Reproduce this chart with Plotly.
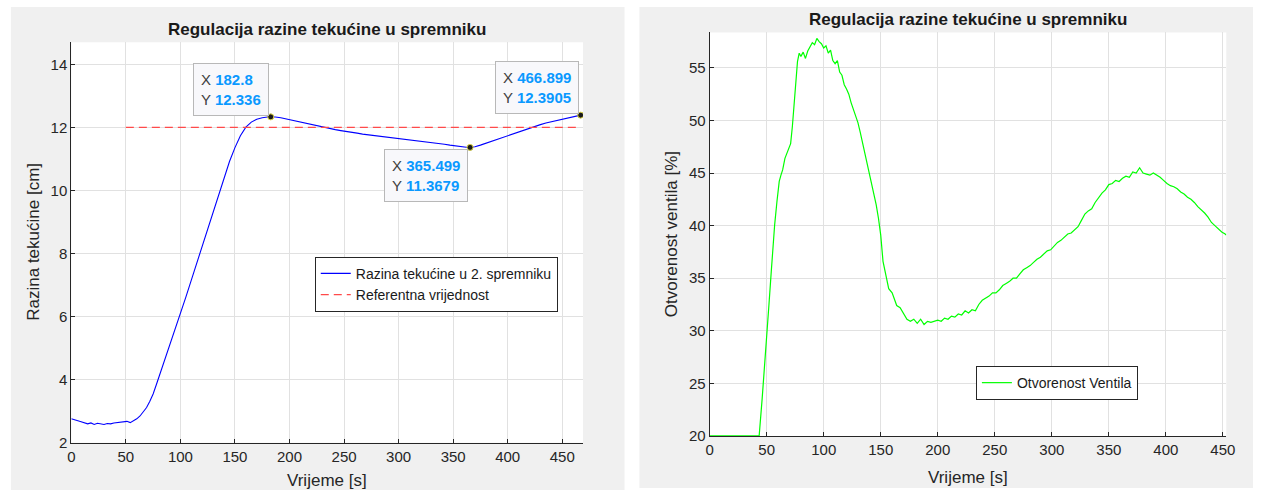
import plotly.graph_objects as go

# ---------------- data ----------------
title_text = "Regulacija razine tekućine u spremniku"

level_t = [0, 3, 6, 9, 12, 15, 18, 21, 24, 27, 30, 33, 36, 39, 42, 45, 48, 51, 54, 57,
           60, 63, 66, 69, 72, 75, 78, 81, 84, 87, 90, 95, 100, 105, 110, 115, 120, 125,
           130, 135, 140, 145, 150, 155, 160, 165, 170, 175, 180, 182.8, 187, 192, 197,
           202, 207, 212, 217, 222, 227, 232, 237, 242, 247, 252, 257, 262, 267, 272,
           277, 282, 287, 292, 297, 302, 307, 312, 317, 322, 327, 332, 337, 342, 347,
           352, 357, 362, 365.499, 370, 375, 380, 385, 390, 395, 400, 405, 410, 415,
           420, 425, 430, 435, 440, 445, 450, 455, 460, 466.899]
level_h = [2.76, 2.72, 2.70, 2.67, 2.64, 2.60, 2.63, 2.58, 2.62, 2.59, 2.58, 2.61, 2.60,
           2.63, 2.64, 2.66, 2.65, 2.68, 2.64, 2.70, 2.76, 2.85, 2.97, 3.12, 3.32, 3.55,
           3.85, 4.15, 4.47, 4.78, 5.08, 5.58, 6.08, 6.62, 7.16, 7.70, 8.24, 8.80, 9.35,
           9.90, 10.42, 10.92, 11.36, 11.74, 12.01, 12.17, 12.26, 12.31, 12.33, 12.336,
           12.33, 12.31, 12.27, 12.24, 12.20, 12.16, 12.12, 12.08, 12.04, 12.00, 11.96,
           11.93, 11.90, 11.88, 11.85, 11.82, 11.79, 11.77, 11.74, 11.72, 11.70, 11.68,
           11.66, 11.65, 11.63, 11.61, 11.58, 11.56, 11.54, 11.51, 11.49, 11.47, 11.44,
           11.41, 11.39, 11.37, 11.3679, 11.39, 11.44, 11.50, 11.56, 11.62, 11.68, 11.74,
           11.80, 11.86, 11.93, 11.99, 12.04, 12.09, 12.14, 12.18, 12.22, 12.25, 12.28,
           12.32, 12.3905]

ref_t = [50, 466.899]
ref_h = [12, 12]

tip_x = [182.8, 365.499, 466.899]
tip_y = [12.336, 11.3679, 12.3905]
tip_xlabel = ["182.8", "365.499", "466.899"]
tip_ylabel = ["12.336", "11.3679", "12.3905"]

valve_t = [0, 10, 20, 30, 40, 43.4, 46, 48, 50, 52, 54, 55.5, 57, 59, 61, 62.5, 64, 66,
           68, 69.5, 71, 72.5, 74, 75.5, 77, 78.5, 80, 82, 84, 86, 88, 90, 92, 94, 96,
           98, 100, 102, 104, 106, 108, 110, 112, 114, 116, 118, 120, 122, 124, 126,
           128, 130, 132, 134, 136, 138, 140, 142, 144, 146, 148, 150, 152, 154.5, 157,
           160, 162, 164, 167, 170, 173, 176, 179, 182, 185, 188, 191, 194, 197, 200,
           203, 206, 209, 212, 215, 218, 221, 224, 227, 230, 233, 236, 239, 242, 245,
           248, 251, 254, 257, 260, 263, 266, 269, 272, 275, 278, 281, 284, 287, 290,
           293, 296, 299, 302, 305, 308, 311, 314, 317, 320, 323, 326, 329, 332, 335,
           338, 341, 344, 347, 350, 353, 356, 359, 362, 365, 368, 371, 374, 377, 380,
           383, 386, 389, 392, 395, 398, 401, 404, 407, 410, 413, 416, 419, 422, 425,
           428, 431, 434, 437, 440, 443, 446, 449, 452, 453]
valve_v = [20, 20, 20, 20, 20, 20, 23.5, 26.8, 29.5, 32.5, 35.6, 38.3, 40.1, 42.3, 44.2,
           44.8, 45.3, 46.4, 46.9, 47.3, 47.8, 49.4, 51.8, 54.2, 55.6, 56.4, 56.1, 56.5,
           55.9, 56.6, 57.0, 57.4, 57.2, 57.8, 57.5, 57.3, 56.9, 57.1, 56.4, 56.7, 55.7,
           55.4, 55.7, 54.6, 54.3, 53.4, 53.0, 52.5, 51.7, 51.1, 50.3, 49.8, 48.9, 47.9,
           47.2, 46.0, 44.9, 44.0, 43.1, 42.0, 40.7, 39.1, 36.6, 35.2, 34.0, 33.6, 32.9,
           32.4, 32.2, 31.6, 31.1, 30.9, 31.1, 30.7, 31.1, 30.6, 30.9, 30.8, 30.9, 31.0,
           30.9, 31.2, 31.1, 31.4, 31.3, 31.6, 31.5, 31.9, 31.7, 32.0, 31.9, 32.5, 32.9,
           33.1, 33.3, 33.6, 33.6, 33.9, 34.3, 34.5, 34.7, 35.0, 35.0, 35.4, 35.8, 36.0,
           36.2, 36.5, 36.8, 37.0, 37.3, 37.6, 37.7, 38.1, 38.4, 38.6, 38.9, 39.2, 39.3,
           39.6, 39.9, 40.5, 41.1, 41.4, 41.6, 42.2, 42.7, 43.1, 43.4, 43.9, 44.0, 44.3,
           44.2, 44.5, 44.7, 44.6, 45.1, 45.0, 45.5, 45.0, 44.9, 44.8, 45.0, 44.8, 44.6,
           44.3, 44.0, 43.8, 43.7, 43.5, 43.2, 43.0, 42.7, 42.5, 42.2, 41.8, 41.5, 41.2,
           40.8, 40.3, 40.0, 39.7, 39.4, 39.2, 39.1]

# ---------------- figure ----------------
W, H = 1263, 500
FONT = "Liberation Sans, Arial, sans-serif"
AX = "#262626"
GRID = "#e1e1e1"

def px_x(p):
    return p / W

def px_y(p):
    return 1 - p / H

fig = go.Figure()

fig.add_trace(go.Scatter(x=level_t, y=level_h, mode="lines",
                         line=dict(color="#0000ff", width=1.1),
                         name="Razina tekućine u 2. spremniku",
                         xaxis="x", yaxis="y", legend="legend"))
fig.add_trace(go.Scatter(x=ref_t, y=ref_h, mode="lines",
                         line=dict(color="#ff4a4a", width=1.3, dash="8px,5px"),
                         name="Referentna vrijednost",
                         xaxis="x", yaxis="y", legend="legend"))
fig.add_trace(go.Scatter(x=tip_x, y=tip_y, mode="markers",
                         marker=dict(color="#1a1a1a", size=6,
                                     line=dict(color="#d8d040", width=1)),
                         showlegend=False, hoverinfo="skip",
                         xaxis="x", yaxis="y"))
fig.add_trace(go.Scatter(x=valve_t, y=valve_v, mode="lines",
                         line=dict(color="#00ff00", width=1.2),
                         name="Otvorenost Ventila",
                         xaxis="x2", yaxis="y2", legend="legend2"))

axis_common = dict(showgrid=True, gridcolor=GRID, gridwidth=1, zeroline=False,
                   showline=True, linecolor=AX, linewidth=1, mirror=False,
                   ticks="inside", ticklen=4, tickcolor=AX, tickwidth=1,
                   tickfont=dict(family=FONT, size=15, color=AX))

shapes = [
    dict(type="rect", xref="paper", yref="paper", x0=px_x(7), x1=px_x(627),
         y0=px_y(498), y1=px_y(7), fillcolor="#f0f0f0", line=dict(width=0), layer="below"),
    dict(type="rect", xref="paper", yref="paper", x0=px_x(642), x1=px_x(1262),
         y0=px_y(496), y1=px_y(7), fillcolor="#f0f0f0", line=dict(width=0), layer="below"),
    dict(type="rect", xref="paper", yref="paper", x0=px_x(68), x1=px_x(585),
         y0=px_y(450), y1=px_y(43), fillcolor="#ffffff", line=dict(width=0), layer="below"),
    dict(type="rect", xref="paper", yref="paper", x0=px_x(713), x1=px_x(1235),
         y0=px_y(443), y1=px_y(33), fillcolor="#ffffff", line=dict(width=0), layer="below"),
]

annotations = [
    dict(text="<b>" + title_text + "</b>", xref="paper", yref="paper",
         x=px_x(326.5), y=px_y(30), xanchor="center", yanchor="middle", showarrow=False,
         font=dict(family=FONT, size=17, color="#1a1a1a")),
    dict(text="<b>" + title_text + "</b>", xref="paper", yref="paper",
         x=px_x(974), y=px_y(20), xanchor="center", yanchor="middle", showarrow=False,
         font=dict(family=FONT, size=17, color="#1a1a1a")),
    dict(text="Vrijeme [s]", xref="paper", yref="paper", x=px_x(326.5), y=px_y(488),
         xanchor="center", yanchor="middle", showarrow=False,
         font=dict(family=FONT, size=17, color=AX)),
    dict(text="Vrijeme [s]", xref="paper", yref="paper", x=px_x(974), y=px_y(485),
         xanchor="center", yanchor="middle", showarrow=False,
         font=dict(family=FONT, size=17, color=AX)),
    dict(text="Razina tekućine [cm]", xref="paper", yref="paper", x=px_x(29), y=px_y(246),
         xanchor="center", yanchor="middle", showarrow=False, textangle=-90,
         font=dict(family=FONT, size=17, color=AX)),
    dict(text="Otvorenost ventila [%]", xref="paper", yref="paper", x=px_x(674), y=px_y(238),
         xanchor="center", yanchor="middle", showarrow=False, textangle=-90,
         font=dict(family=FONT, size=17, color=AX)),
]

tip_anchor = [("right", "bottom"), ("right", "top"), ("right", "bottom")]
for xi, yi, xl, yl, (xa, ya) in zip(tip_x, tip_y, tip_xlabel, tip_ylabel, tip_anchor):
    txt = ("X <b><span style=\"color:#0a99ff\">" + xl + "</span></b><br>"
           "Y <b><span style=\"color:#0a99ff\">" + yl + "</span></b>")
    annotations.append(dict(text=txt, xref="x", yref="y", x=xi, y=yi,
                            xanchor=xa, yanchor=ya, showarrow=False, align="left",
                            xshift=-2, yshift=(1 if ya == "bottom" else -2),
                            bgcolor="#f8f8fb", bordercolor="#b8b8b8", borderwidth=1,
                            borderpad=7,
                            font=dict(family=FONT, size=15, color="#404040")))

fig.update_layout(
    width=W, height=H,
    margin=dict(l=0, r=0, t=0, b=0),
    paper_bgcolor="#ffffff", plot_bgcolor="#ffffff",
    font=dict(family=FONT, color=AX),
    xaxis=dict(axis_common, domain=[px_x(68), px_x(585)], range=[0, 469],
               tickmode="linear", tick0=0, dtick=50, anchor="y"),
    yaxis=dict(axis_common, domain=[px_y(450), px_y(43)], range=[2, 14.7],
               tickmode="linear", tick0=2, dtick=2, anchor="x"),
    xaxis2=dict(axis_common, domain=[px_x(713), px_x(1235)], range=[0, 453],
                tickmode="linear", tick0=0, dtick=50, anchor="y2"),
    yaxis2=dict(axis_common, domain=[px_y(443), px_y(33)], range=[20, 58.37],
                tickmode="linear", tick0=20, dtick=5, anchor="x2"),
    legend=dict(x=px_x(314), y=px_y(261), xanchor="left", yanchor="top",
                bgcolor="#ffffff", bordercolor=AX, borderwidth=1,
                font=dict(family=FONT, size=14, color="#1a1a1a"),
                tracegroupgap=0, itemwidth=30),
    legend2=dict(x=px_x(982), y=px_y(372), xanchor="left", yanchor="top",
                 bgcolor="#ffffff", bordercolor=AX, borderwidth=1,
                 font=dict(family=FONT, size=14, color="#1a1a1a"),
                 itemwidth=30),
    shapes=shapes,
    annotations=annotations,
    showlegend=True,
)

fig.write_html("out.html",
               config={"displayModeBar": False},
               post_script="document.body.style.margin='0';document.body.style.overflow='hidden';")
